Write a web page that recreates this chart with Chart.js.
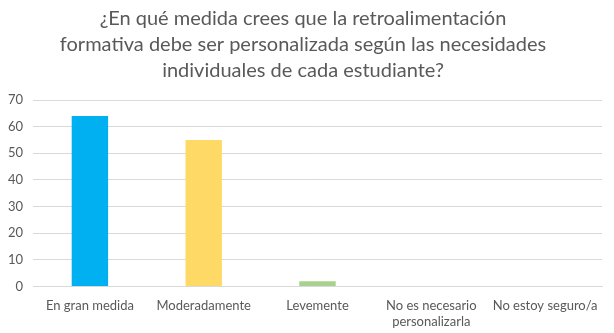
<!DOCTYPE html>
<html>
<head>
<meta charset="utf-8">
<script src="https://cdn.jsdelivr.net/npm/chart.js@4/dist/chart.umd.min.js"></script>
<style>
  html, body { margin: 0; padding: 0; background: #fff; }
  #wrap { width: 614px; height: 333px; }
</style>
</head>
<body>
<div id="wrap"><canvas id="mycanvas"></canvas></div>
<script>
var categories = ["En gran medida", "Moderadamente", "Levemente", ["No es necesario", "personalizarla"], "No estoy seguro/a"];
var values = [64, 55, 2, 0, 0];
var colors = ["#00B0F0", "#FFD966", "#A9D18E", "#5B9BD5", "#ED7D31"];
var titleLines = ["¿En qué medida crees que la retroalimentación", "formativa debe ser personalizada según las necesidades", "individuales de cada estudiante?"];

var ctx = document.getElementById("mycanvas");
var barGraph = new Chart(ctx, {
	type: 'bar',
	data: {
		labels: categories,
		datasets: [{
			data: values,
			backgroundColor: colors,
			borderWidth: 0,
			categoryPercentage: 1,
			barPercentage: 0.32
		}]
	},
	options: {
		responsive: true,
		maintainAspectRatio: false,
		animation: false,
		layout: { padding: { left: 4, right: 12, top: 4, bottom: 0 } },
		plugins: {
			legend: { display: false },
			tooltip: { enabled: false },
			title: {
				display: true,
				text: titleLines,
				color: "#595959",
				font: { family: "Lato", size: 20, weight: 'normal', lineHeight: 1.3 },
				padding: { top: 2, bottom: 16 }
			}
		},
		scales: {
			x: {
				grid: { display: false },
				border: { color: "#d9d9d9" },
				ticks: { color: "#595959", font: { family: "Lato", size: 13, lineHeight: 1.25 }, maxRotation: 0, autoSkip: false, padding: 3 }
			},
			y: {
				min: 0, max: 70,
				grid: { color: "#d9d9d9", drawTicks: false },
				border: { display: false },
				ticks: { stepSize: 10, color: "#595959", font: { family: "Lato", size: 13 }, padding: 10 },
				afterFit: function(scale) { scale.width = 29; }
			}
		}
	}
});
</script>
</body>
</html>
